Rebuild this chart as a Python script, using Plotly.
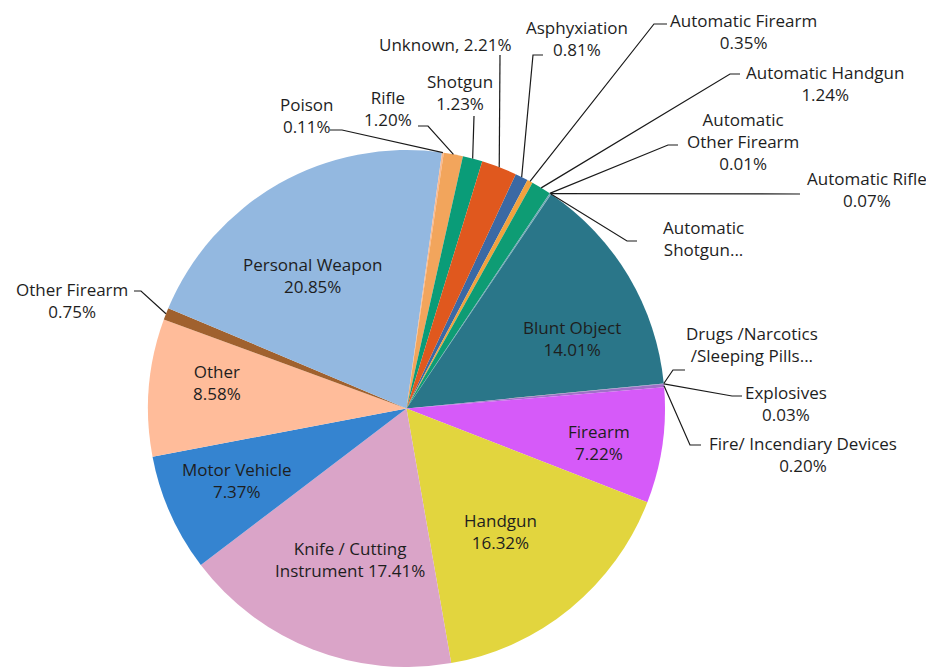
import math
import plotly.graph_objects as go

# ---------------- data ----------------
labels = [
    "Asphyxiation", "Automatic Firearm", "Automatic Handgun",
    "Automatic Other Firearm", "Automatic Rifle", "Automatic Shotgun",
    "Blunt Object", "Drugs /Narcotics /Sleeping Pills", "Explosives",
    "Fire / Incendiary Devices", "Firearm", "Handgun",
    "Knife / Cutting Instrument", "Motor Vehicle", "Other", "Other Firearm",
    "Personal Weapon", "Poison", "Rifle", "Shotgun", "Unknown",
]
values = [
    0.81, 0.35, 1.24,
    0.01, 0.07, 0.02,
    14.01, 0.01, 0.03,
    0.20, 7.22, 16.32,
    17.41, 7.37, 8.58, 0.75,
    20.85, 0.11, 1.20, 1.23, 2.21,
]
# label text as shown on the chart (name part, and how the percent is joined)
display_names = [
    "Asphyxiation", "Automatic Firearm", "Automatic Handgun",
    "Automatic<br>Other Firearm", "Automatic Rifle", "Automatic<br>Shotgun...",
    "Blunt Object", "Drugs /Narcotics<br>/Sleeping Pills...", "Explosives",
    "Fire/ Incendiary Devices", "Firearm", "Handgun",
    "Knife / Cutting<br>Instrument", "Motor Vehicle", "Other", "Other Firearm",
    "Personal Weapon", "Poison", "Rifle", "Shotgun", "Unknown",
]
pct_join = [
    "<br>", "<br>", "<br>",
    "<br>", "<br>", None,
    "<br>", None, "<br>",
    "<br>", "<br>", "<br>",
    " ", "<br>", "<br>", "<br>",
    "<br>", "<br>", "<br>", "<br>", ", ",
]

# ---------------- styling / layout ----------------
colors = [
    "#3B69A4", "#F2A23E", "#0E9C74",
    "#4F8FA0", "#5E9EAC", "#7FB2BC",
    "#2A7689", "#B5A48E", "#8C8CC0",
    "#A070C8", "#D65AF9", "#E2D53E",
    "#DAA4C8", "#3584D0", "#FFBC9A", "#A0612E",
    "#93B8E0", "#F8B890", "#F2A55C", "#0A9C78", "#E0581E",
]

PAGE_W, PAGE_H = 934, 667
OFF = 8                              # default page margin around the plot div
W, H = PAGE_W - OFF, PAGE_H - OFF
CX, CY, R = 406.5, 408.5, 258.5      # pie centre / radius in page pixels
ROT = 25.0                           # start angle of first slice (deg, clockwise from 12)
FONT = "Open Sans"
FS = 17

# label centre (page px) and leader elbow points (page px); None -> inside label
label_pos = [
    (577, 38.5), (743, 31.5), (825, 83.5),
    (743, 141), (867, 189.5), (703, 238.5),
    (572, 338.5), (752, 344.5), (786, 403),
    (803, 454.5), (599, 442.5), (501, 531.5),
    (350, 559), (237, 480.5), (217, 382.5), (72, 301),
    (312, 275.5), (307, 115), (388, 108), (460, 93), (445, 44),
]
leaders = [
    [(543, 55), (533, 55)], [(667, 24), (654, 24)], [(740, 74), (730, 74)],
    [(678, 145), (668, 145)], [(800, 194)], [(637, 241), (627, 241)],
    None, [(685, 370), (673, 370)], [(742, 396), (732, 396)],
    [(701, 445), (690, 445)], None, None,
    None, None, None, [(134, 291), (141, 291)],
    None, [(330, 130), (342, 130)], [(418, 126), (428, 126)], [(474, 116)], [(500, 55)],
]


def px2paper(x, y):
    return (x - OFF) / W, 1 - (y - OFF) / H


fig = go.Figure(go.Pie(
    labels=labels,
    values=values,
    sort=False,
    direction="clockwise",
    rotation=ROT,
    marker=dict(colors=colors, line=dict(width=0)),
    textinfo="none",
    hoverinfo="label+percent",
    showlegend=False,
    domain=dict(
        x=[(CX - R - OFF) / W, (CX + R - OFF) / W],
        y=[max(0.0, 1 - (CY + R - OFF) / H), 1 - (CY - R - OFF) / H],
    ),
))

total = sum(values)
annotations = []
shapes = []
cum = 0.0
for i, (name, v) in enumerate(zip(display_names, values)):
    mid = ROT + (cum + v / 2) / total * 360.0
    cum += v
    pct = f"{v / total * 100:.2f}%"
    text = name if pct_join[i] is None else name + pct_join[i] + pct
    lx, ly = label_pos[i]
    px, py = px2paper(lx, ly)
    annotations.append(dict(
        x=px, y=py, xref="paper", yref="paper", text=text, showarrow=False,
        xanchor="center", yanchor="middle", align="center",
        font=dict(family=FONT, size=FS, color="#1e1e1e"),
    ))
    if leaders[i] is not None:
        a = math.radians(mid)
        ax = CX + R * math.sin(a)
        ay = CY - R * math.cos(a)
        pts = leaders[i] + [(ax, ay)]
        path = ""
        for k, (x, y) in enumerate(pts):
            qx, qy = px2paper(x, y)
            path += ("M" if k == 0 else " L") + f"{qx:.5f},{qy:.5f}"
        shapes.append(dict(type="path", path=path, xref="paper", yref="paper",
                           line=dict(color="#1a1a1a", width=1.2)))

fig.update_layout(
    width=W, height=H,
    margin=dict(l=0, r=0, t=0, b=0),
    paper_bgcolor="white",
    annotations=annotations,
    shapes=shapes,
)

fig.write_html("out.html")
